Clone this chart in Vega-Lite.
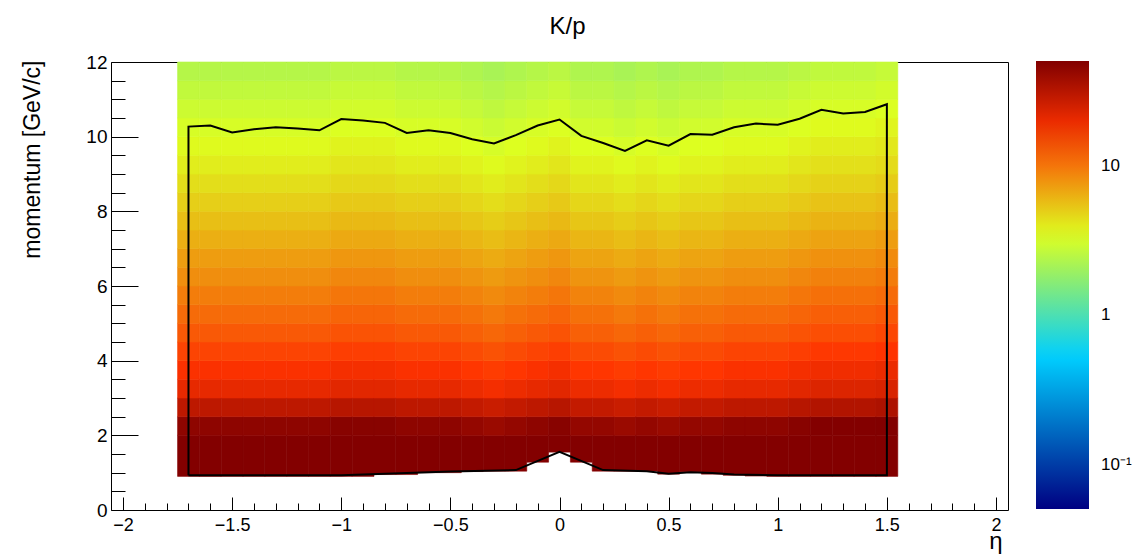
{
"$schema":"https://vega.github.io/schema/vega-lite/v6.json",
"width":897,"height":448,
"autosize":{"type":"none"},
"padding":{"left":111,"top":62,"right":133,"bottom":44},
"background":"white",
"config":{"view":{"stroke":"black","strokeWidth":1},"font":"Liberation Sans"},
"title":{"text":"K/p","fontSize":24,"font":"Liberation Sans","fontWeight":"normal","color":"black","anchor":"middle","dx":8,"offset":-5,"baseline":"alphabetic"},
"datasets":{
"cells":[
{"a":-1.75,"b":-1.65,"p":0.9,"q":2,"z":50},{"a":-1.75,"b":-1.65,"p":2,"q":2.5,"z":45.5},{"a":-1.75,"b":-1.65,"p":2.5,"q":3,"z":30.0},{"a":-1.75,"b":-1.65,"p":3,"q":3.5,"z":20.6},{"a":-1.75,"b":-1.65,"p":3.5,"q":4,"z":17.3},{"a":-1.75,"b":-1.65,"p":4,"q":4.5,"z":14.6},{"a":-1.75,"b":-1.65,"p":4.5,"q":5,"z":12.4},{"a":-1.75,"b":-1.65,"p":5,"q":5.5,"z":10.8},{"a":-1.75,"b":-1.65,"p":5.5,"q":6,"z":9.42},{"a":-1.75,"b":-1.65,"p":6,"q":6.5,"z":8.26},{"a":-1.75,"b":-1.65,"p":6.5,"q":7,"z":7.30},{"a":-1.75,"b":-1.65,"p":7,"q":7.5,"z":6.36},{"a":-1.75,"b":-1.65,"p":7.5,"q":8,"z":5.61},{"a":-1.75,"b":-1.65,"p":8,"q":8.5,"z":4.95},{"a":-1.75,"b":-1.65,"p":8.5,"q":9,"z":4.40},{"a":-1.75,"b":-1.65,"p":9,"q":9.5,"z":3.94},{"a":-1.75,"b":-1.65,"p":9.5,"q":10,"z":3.56},{"a":-1.75,"b":-1.65,"p":10,"q":10.5,"z":3.21},{"a":-1.75,"b":-1.65,"p":10.5,"q":11,"z":2.93},{"a":-1.75,"b":-1.65,"p":11,"q":11.5,"z":2.68},{"a":-1.75,"b":-1.65,"p":11.5,"q":12,"z":2.42},
{"a":-1.65,"b":-1.55,"p":0.9,"q":2,"z":50},{"a":-1.65,"b":-1.55,"p":2,"q":2.5,"z":45.5},{"a":-1.65,"b":-1.55,"p":2.5,"q":3,"z":30.0},{"a":-1.65,"b":-1.55,"p":3,"q":3.5,"z":20.6},{"a":-1.65,"b":-1.55,"p":3.5,"q":4,"z":17.3},{"a":-1.65,"b":-1.55,"p":4,"q":4.5,"z":14.6},{"a":-1.65,"b":-1.55,"p":4.5,"q":5,"z":12.4},{"a":-1.65,"b":-1.55,"p":5,"q":5.5,"z":10.8},{"a":-1.65,"b":-1.55,"p":5.5,"q":6,"z":9.42},{"a":-1.65,"b":-1.55,"p":6,"q":6.5,"z":8.26},{"a":-1.65,"b":-1.55,"p":6.5,"q":7,"z":7.30},{"a":-1.65,"b":-1.55,"p":7,"q":7.5,"z":6.36},{"a":-1.65,"b":-1.55,"p":7.5,"q":8,"z":5.61},{"a":-1.65,"b":-1.55,"p":8,"q":8.5,"z":4.95},{"a":-1.65,"b":-1.55,"p":8.5,"q":9,"z":4.40},{"a":-1.65,"b":-1.55,"p":9,"q":9.5,"z":3.94},{"a":-1.65,"b":-1.55,"p":9.5,"q":10,"z":3.56},{"a":-1.65,"b":-1.55,"p":10,"q":10.5,"z":3.21},{"a":-1.65,"b":-1.55,"p":10.5,"q":11,"z":2.93},{"a":-1.65,"b":-1.55,"p":11,"q":11.5,"z":2.68},{"a":-1.65,"b":-1.55,"p":11.5,"q":12,"z":2.42},
{"a":-1.55,"b":-1.45,"p":0.9,"q":2,"z":50},{"a":-1.55,"b":-1.45,"p":2,"q":2.5,"z":45.5},{"a":-1.55,"b":-1.45,"p":2.5,"q":3,"z":30.0},{"a":-1.55,"b":-1.45,"p":3,"q":3.5,"z":20.6},{"a":-1.55,"b":-1.45,"p":3.5,"q":4,"z":17.3},{"a":-1.55,"b":-1.45,"p":4,"q":4.5,"z":14.6},{"a":-1.55,"b":-1.45,"p":4.5,"q":5,"z":12.4},{"a":-1.55,"b":-1.45,"p":5,"q":5.5,"z":10.8},{"a":-1.55,"b":-1.45,"p":5.5,"q":6,"z":9.42},{"a":-1.55,"b":-1.45,"p":6,"q":6.5,"z":8.26},{"a":-1.55,"b":-1.45,"p":6.5,"q":7,"z":7.30},{"a":-1.55,"b":-1.45,"p":7,"q":7.5,"z":6.36},{"a":-1.55,"b":-1.45,"p":7.5,"q":8,"z":5.61},{"a":-1.55,"b":-1.45,"p":8,"q":8.5,"z":4.95},{"a":-1.55,"b":-1.45,"p":8.5,"q":9,"z":4.40},{"a":-1.55,"b":-1.45,"p":9,"q":9.5,"z":3.94},{"a":-1.55,"b":-1.45,"p":9.5,"q":10,"z":3.56},{"a":-1.55,"b":-1.45,"p":10,"q":10.5,"z":3.21},{"a":-1.55,"b":-1.45,"p":10.5,"q":11,"z":2.93},{"a":-1.55,"b":-1.45,"p":11,"q":11.5,"z":2.68},{"a":-1.55,"b":-1.45,"p":11.5,"q":12,"z":2.42},
{"a":-1.45,"b":-1.35,"p":0.9,"q":2,"z":50},{"a":-1.45,"b":-1.35,"p":2,"q":2.5,"z":45.5},{"a":-1.45,"b":-1.35,"p":2.5,"q":3,"z":30.0},{"a":-1.45,"b":-1.35,"p":3,"q":3.5,"z":20.6},{"a":-1.45,"b":-1.35,"p":3.5,"q":4,"z":17.3},{"a":-1.45,"b":-1.35,"p":4,"q":4.5,"z":14.6},{"a":-1.45,"b":-1.35,"p":4.5,"q":5,"z":12.4},{"a":-1.45,"b":-1.35,"p":5,"q":5.5,"z":10.8},{"a":-1.45,"b":-1.35,"p":5.5,"q":6,"z":9.42},{"a":-1.45,"b":-1.35,"p":6,"q":6.5,"z":8.26},{"a":-1.45,"b":-1.35,"p":6.5,"q":7,"z":7.30},{"a":-1.45,"b":-1.35,"p":7,"q":7.5,"z":6.36},{"a":-1.45,"b":-1.35,"p":7.5,"q":8,"z":5.61},{"a":-1.45,"b":-1.35,"p":8,"q":8.5,"z":4.95},{"a":-1.45,"b":-1.35,"p":8.5,"q":9,"z":4.40},{"a":-1.45,"b":-1.35,"p":9,"q":9.5,"z":3.94},{"a":-1.45,"b":-1.35,"p":9.5,"q":10,"z":3.56},{"a":-1.45,"b":-1.35,"p":10,"q":10.5,"z":3.21},{"a":-1.45,"b":-1.35,"p":10.5,"q":11,"z":2.93},{"a":-1.45,"b":-1.35,"p":11,"q":11.5,"z":2.68},{"a":-1.45,"b":-1.35,"p":11.5,"q":12,"z":2.42},
{"a":-1.35,"b":-1.25,"p":0.9,"q":2,"z":50},{"a":-1.35,"b":-1.25,"p":2,"q":2.5,"z":45.5},{"a":-1.35,"b":-1.25,"p":2.5,"q":3,"z":30.0},{"a":-1.35,"b":-1.25,"p":3,"q":3.5,"z":20.6},{"a":-1.35,"b":-1.25,"p":3.5,"q":4,"z":17.3},{"a":-1.35,"b":-1.25,"p":4,"q":4.5,"z":14.6},{"a":-1.35,"b":-1.25,"p":4.5,"q":5,"z":12.4},{"a":-1.35,"b":-1.25,"p":5,"q":5.5,"z":10.8},{"a":-1.35,"b":-1.25,"p":5.5,"q":6,"z":9.42},{"a":-1.35,"b":-1.25,"p":6,"q":6.5,"z":8.26},{"a":-1.35,"b":-1.25,"p":6.5,"q":7,"z":7.30},{"a":-1.35,"b":-1.25,"p":7,"q":7.5,"z":6.36},{"a":-1.35,"b":-1.25,"p":7.5,"q":8,"z":5.61},{"a":-1.35,"b":-1.25,"p":8,"q":8.5,"z":4.95},{"a":-1.35,"b":-1.25,"p":8.5,"q":9,"z":4.40},{"a":-1.35,"b":-1.25,"p":9,"q":9.5,"z":3.94},{"a":-1.35,"b":-1.25,"p":9.5,"q":10,"z":3.56},{"a":-1.35,"b":-1.25,"p":10,"q":10.5,"z":3.21},{"a":-1.35,"b":-1.25,"p":10.5,"q":11,"z":2.93},{"a":-1.35,"b":-1.25,"p":11,"q":11.5,"z":2.68},{"a":-1.35,"b":-1.25,"p":11.5,"q":12,"z":2.42},
{"a":-1.25,"b":-1.15,"p":0.9,"q":2,"z":50},{"a":-1.25,"b":-1.15,"p":2,"q":2.5,"z":45.5},{"a":-1.25,"b":-1.15,"p":2.5,"q":3,"z":30.0},{"a":-1.25,"b":-1.15,"p":3,"q":3.5,"z":20.6},{"a":-1.25,"b":-1.15,"p":3.5,"q":4,"z":17.3},{"a":-1.25,"b":-1.15,"p":4,"q":4.5,"z":14.6},{"a":-1.25,"b":-1.15,"p":4.5,"q":5,"z":12.4},{"a":-1.25,"b":-1.15,"p":5,"q":5.5,"z":10.8},{"a":-1.25,"b":-1.15,"p":5.5,"q":6,"z":9.42},{"a":-1.25,"b":-1.15,"p":6,"q":6.5,"z":8.26},{"a":-1.25,"b":-1.15,"p":6.5,"q":7,"z":7.30},{"a":-1.25,"b":-1.15,"p":7,"q":7.5,"z":6.36},{"a":-1.25,"b":-1.15,"p":7.5,"q":8,"z":5.61},{"a":-1.25,"b":-1.15,"p":8,"q":8.5,"z":4.95},{"a":-1.25,"b":-1.15,"p":8.5,"q":9,"z":4.40},{"a":-1.25,"b":-1.15,"p":9,"q":9.5,"z":3.94},{"a":-1.25,"b":-1.15,"p":9.5,"q":10,"z":3.56},{"a":-1.25,"b":-1.15,"p":10,"q":10.5,"z":3.21},{"a":-1.25,"b":-1.15,"p":10.5,"q":11,"z":2.93},{"a":-1.25,"b":-1.15,"p":11,"q":11.5,"z":2.68},{"a":-1.25,"b":-1.15,"p":11.5,"q":12,"z":2.42},
{"a":-1.15,"b":-1.05,"p":0.9,"q":2,"z":50},{"a":-1.15,"b":-1.05,"p":2,"q":2.5,"z":45.5},{"a":-1.15,"b":-1.05,"p":2.5,"q":3,"z":30.0},{"a":-1.15,"b":-1.05,"p":3,"q":3.5,"z":20.6},{"a":-1.15,"b":-1.05,"p":3.5,"q":4,"z":17.3},{"a":-1.15,"b":-1.05,"p":4,"q":4.5,"z":14.6},{"a":-1.15,"b":-1.05,"p":4.5,"q":5,"z":12.4},{"a":-1.15,"b":-1.05,"p":5,"q":5.5,"z":10.8},{"a":-1.15,"b":-1.05,"p":5.5,"q":6,"z":9.42},{"a":-1.15,"b":-1.05,"p":6,"q":6.5,"z":8.26},{"a":-1.15,"b":-1.05,"p":6.5,"q":7,"z":7.30},{"a":-1.15,"b":-1.05,"p":7,"q":7.5,"z":6.36},{"a":-1.15,"b":-1.05,"p":7.5,"q":8,"z":5.61},{"a":-1.15,"b":-1.05,"p":8,"q":8.5,"z":4.95},{"a":-1.15,"b":-1.05,"p":8.5,"q":9,"z":4.40},{"a":-1.15,"b":-1.05,"p":9,"q":9.5,"z":3.94},{"a":-1.15,"b":-1.05,"p":9.5,"q":10,"z":3.56},{"a":-1.15,"b":-1.05,"p":10,"q":10.5,"z":3.21},{"a":-1.15,"b":-1.05,"p":10.5,"q":11,"z":2.93},{"a":-1.15,"b":-1.05,"p":11,"q":11.5,"z":2.68},{"a":-1.15,"b":-1.05,"p":11.5,"q":12,"z":2.42},
{"a":-1.05,"b":-0.95,"p":0.9,"q":2,"z":50},{"a":-1.05,"b":-0.95,"p":2,"q":2.5,"z":47.8},{"a":-1.05,"b":-0.95,"p":2.5,"q":3,"z":31.5},{"a":-1.05,"b":-0.95,"p":3,"q":3.5,"z":21.6},{"a":-1.05,"b":-0.95,"p":3.5,"q":4,"z":18.2},{"a":-1.05,"b":-0.95,"p":4,"q":4.5,"z":15.3},{"a":-1.05,"b":-0.95,"p":4.5,"q":5,"z":13.0},{"a":-1.05,"b":-0.95,"p":5,"q":5.5,"z":11.3},{"a":-1.05,"b":-0.95,"p":5.5,"q":6,"z":9.89},{"a":-1.05,"b":-0.95,"p":6,"q":6.5,"z":8.67},{"a":-1.05,"b":-0.95,"p":6.5,"q":7,"z":7.67},{"a":-1.05,"b":-0.95,"p":7,"q":7.5,"z":6.68},{"a":-1.05,"b":-0.95,"p":7.5,"q":8,"z":5.89},{"a":-1.05,"b":-0.95,"p":8,"q":8.5,"z":5.20},{"a":-1.05,"b":-0.95,"p":8.5,"q":9,"z":4.62},{"a":-1.05,"b":-0.95,"p":9,"q":9.5,"z":4.14},{"a":-1.05,"b":-0.95,"p":9.5,"q":10,"z":3.74},{"a":-1.05,"b":-0.95,"p":10,"q":10.5,"z":3.37},{"a":-1.05,"b":-0.95,"p":10.5,"q":11,"z":3.08},{"a":-1.05,"b":-0.95,"p":11,"q":11.5,"z":2.81},{"a":-1.05,"b":-0.95,"p":11.5,"q":12,"z":2.54},
{"a":-0.95,"b":-0.85,"p":0.9,"q":2,"z":50},{"a":-0.95,"b":-0.85,"p":2,"q":2.5,"z":47.8},{"a":-0.95,"b":-0.85,"p":2.5,"q":3,"z":31.5},{"a":-0.95,"b":-0.85,"p":3,"q":3.5,"z":21.6},{"a":-0.95,"b":-0.85,"p":3.5,"q":4,"z":18.2},{"a":-0.95,"b":-0.85,"p":4,"q":4.5,"z":15.3},{"a":-0.95,"b":-0.85,"p":4.5,"q":5,"z":13.0},{"a":-0.95,"b":-0.85,"p":5,"q":5.5,"z":11.3},{"a":-0.95,"b":-0.85,"p":5.5,"q":6,"z":9.89},{"a":-0.95,"b":-0.85,"p":6,"q":6.5,"z":8.67},{"a":-0.95,"b":-0.85,"p":6.5,"q":7,"z":7.67},{"a":-0.95,"b":-0.85,"p":7,"q":7.5,"z":6.68},{"a":-0.95,"b":-0.85,"p":7.5,"q":8,"z":5.89},{"a":-0.95,"b":-0.85,"p":8,"q":8.5,"z":5.20},{"a":-0.95,"b":-0.85,"p":8.5,"q":9,"z":4.62},{"a":-0.95,"b":-0.85,"p":9,"q":9.5,"z":4.14},{"a":-0.95,"b":-0.85,"p":9.5,"q":10,"z":3.74},{"a":-0.95,"b":-0.85,"p":10,"q":10.5,"z":3.37},{"a":-0.95,"b":-0.85,"p":10.5,"q":11,"z":3.08},{"a":-0.95,"b":-0.85,"p":11,"q":11.5,"z":2.81},{"a":-0.95,"b":-0.85,"p":11.5,"q":12,"z":2.54},
{"a":-0.85,"b":-0.75,"p":0.95,"q":2,"z":50},{"a":-0.85,"b":-0.75,"p":2,"q":2.5,"z":47.8},{"a":-0.85,"b":-0.75,"p":2.5,"q":3,"z":31.5},{"a":-0.85,"b":-0.75,"p":3,"q":3.5,"z":21.6},{"a":-0.85,"b":-0.75,"p":3.5,"q":4,"z":18.2},{"a":-0.85,"b":-0.75,"p":4,"q":4.5,"z":15.3},{"a":-0.85,"b":-0.75,"p":4.5,"q":5,"z":13.0},{"a":-0.85,"b":-0.75,"p":5,"q":5.5,"z":11.3},{"a":-0.85,"b":-0.75,"p":5.5,"q":6,"z":9.89},{"a":-0.85,"b":-0.75,"p":6,"q":6.5,"z":8.67},{"a":-0.85,"b":-0.75,"p":6.5,"q":7,"z":7.67},{"a":-0.85,"b":-0.75,"p":7,"q":7.5,"z":6.68},{"a":-0.85,"b":-0.75,"p":7.5,"q":8,"z":5.89},{"a":-0.85,"b":-0.75,"p":8,"q":8.5,"z":5.20},{"a":-0.85,"b":-0.75,"p":8.5,"q":9,"z":4.62},{"a":-0.85,"b":-0.75,"p":9,"q":9.5,"z":4.14},{"a":-0.85,"b":-0.75,"p":9.5,"q":10,"z":3.74},{"a":-0.85,"b":-0.75,"p":10,"q":10.5,"z":3.37},{"a":-0.85,"b":-0.75,"p":10.5,"q":11,"z":3.08},{"a":-0.85,"b":-0.75,"p":11,"q":11.5,"z":2.81},{"a":-0.85,"b":-0.75,"p":11.5,"q":12,"z":2.54},
{"a":-0.75,"b":-0.65,"p":0.95,"q":2,"z":50},{"a":-0.75,"b":-0.65,"p":2,"q":2.5,"z":45.5},{"a":-0.75,"b":-0.65,"p":2.5,"q":3,"z":30.0},{"a":-0.75,"b":-0.65,"p":3,"q":3.5,"z":20.6},{"a":-0.75,"b":-0.65,"p":3.5,"q":4,"z":17.3},{"a":-0.75,"b":-0.65,"p":4,"q":4.5,"z":14.6},{"a":-0.75,"b":-0.65,"p":4.5,"q":5,"z":12.4},{"a":-0.75,"b":-0.65,"p":5,"q":5.5,"z":10.8},{"a":-0.75,"b":-0.65,"p":5.5,"q":6,"z":9.42},{"a":-0.75,"b":-0.65,"p":6,"q":6.5,"z":8.26},{"a":-0.75,"b":-0.65,"p":6.5,"q":7,"z":7.30},{"a":-0.75,"b":-0.65,"p":7,"q":7.5,"z":6.36},{"a":-0.75,"b":-0.65,"p":7.5,"q":8,"z":5.61},{"a":-0.75,"b":-0.65,"p":8,"q":8.5,"z":4.95},{"a":-0.75,"b":-0.65,"p":8.5,"q":9,"z":4.40},{"a":-0.75,"b":-0.65,"p":9,"q":9.5,"z":3.94},{"a":-0.75,"b":-0.65,"p":9.5,"q":10,"z":3.56},{"a":-0.75,"b":-0.65,"p":10,"q":10.5,"z":3.21},{"a":-0.75,"b":-0.65,"p":10.5,"q":11,"z":2.93},{"a":-0.75,"b":-0.65,"p":11,"q":11.5,"z":2.68},{"a":-0.75,"b":-0.65,"p":11.5,"q":12,"z":2.42},
{"a":-0.65,"b":-0.55,"p":1.0,"q":2,"z":50},{"a":-0.65,"b":-0.55,"p":2,"q":2.5,"z":45.5},{"a":-0.65,"b":-0.55,"p":2.5,"q":3,"z":30.0},{"a":-0.65,"b":-0.55,"p":3,"q":3.5,"z":20.6},{"a":-0.65,"b":-0.55,"p":3.5,"q":4,"z":17.3},{"a":-0.65,"b":-0.55,"p":4,"q":4.5,"z":14.6},{"a":-0.65,"b":-0.55,"p":4.5,"q":5,"z":12.4},{"a":-0.65,"b":-0.55,"p":5,"q":5.5,"z":10.8},{"a":-0.65,"b":-0.55,"p":5.5,"q":6,"z":9.42},{"a":-0.65,"b":-0.55,"p":6,"q":6.5,"z":8.26},{"a":-0.65,"b":-0.55,"p":6.5,"q":7,"z":7.30},{"a":-0.65,"b":-0.55,"p":7,"q":7.5,"z":6.36},{"a":-0.65,"b":-0.55,"p":7.5,"q":8,"z":5.61},{"a":-0.65,"b":-0.55,"p":8,"q":8.5,"z":4.95},{"a":-0.65,"b":-0.55,"p":8.5,"q":9,"z":4.40},{"a":-0.65,"b":-0.55,"p":9,"q":9.5,"z":3.94},{"a":-0.65,"b":-0.55,"p":9.5,"q":10,"z":3.56},{"a":-0.65,"b":-0.55,"p":10,"q":10.5,"z":3.21},{"a":-0.65,"b":-0.55,"p":10.5,"q":11,"z":2.93},{"a":-0.65,"b":-0.55,"p":11,"q":11.5,"z":2.68},{"a":-0.65,"b":-0.55,"p":11.5,"q":12,"z":2.42},
{"a":-0.55,"b":-0.45,"p":1.0,"q":2,"z":50},{"a":-0.55,"b":-0.45,"p":2,"q":2.5,"z":45.5},{"a":-0.55,"b":-0.45,"p":2.5,"q":3,"z":30.0},{"a":-0.55,"b":-0.45,"p":3,"q":3.5,"z":20.6},{"a":-0.55,"b":-0.45,"p":3.5,"q":4,"z":17.3},{"a":-0.55,"b":-0.45,"p":4,"q":4.5,"z":14.6},{"a":-0.55,"b":-0.45,"p":4.5,"q":5,"z":12.4},{"a":-0.55,"b":-0.45,"p":5,"q":5.5,"z":10.8},{"a":-0.55,"b":-0.45,"p":5.5,"q":6,"z":9.42},{"a":-0.55,"b":-0.45,"p":6,"q":6.5,"z":8.26},{"a":-0.55,"b":-0.45,"p":6.5,"q":7,"z":7.30},{"a":-0.55,"b":-0.45,"p":7,"q":7.5,"z":6.36},{"a":-0.55,"b":-0.45,"p":7.5,"q":8,"z":5.61},{"a":-0.55,"b":-0.45,"p":8,"q":8.5,"z":4.95},{"a":-0.55,"b":-0.45,"p":8.5,"q":9,"z":4.40},{"a":-0.55,"b":-0.45,"p":9,"q":9.5,"z":3.94},{"a":-0.55,"b":-0.45,"p":9.5,"q":10,"z":3.56},{"a":-0.55,"b":-0.45,"p":10,"q":10.5,"z":3.21},{"a":-0.55,"b":-0.45,"p":10.5,"q":11,"z":2.93},{"a":-0.55,"b":-0.45,"p":11,"q":11.5,"z":2.68},{"a":-0.55,"b":-0.45,"p":11.5,"q":12,"z":2.42},
{"a":-0.45,"b":-0.35,"p":1.03,"q":2,"z":50},{"a":-0.45,"b":-0.35,"p":2,"q":2.5,"z":43.2},{"a":-0.45,"b":-0.35,"p":2.5,"q":3,"z":28.5},{"a":-0.45,"b":-0.35,"p":3,"q":3.5,"z":19.6},{"a":-0.45,"b":-0.35,"p":3.5,"q":4,"z":16.4},{"a":-0.45,"b":-0.35,"p":4,"q":4.5,"z":13.9},{"a":-0.45,"b":-0.35,"p":4.5,"q":5,"z":11.8},{"a":-0.45,"b":-0.35,"p":5,"q":5.5,"z":10.3},{"a":-0.45,"b":-0.35,"p":5.5,"q":6,"z":8.95},{"a":-0.45,"b":-0.35,"p":6,"q":6.5,"z":7.85},{"a":-0.45,"b":-0.35,"p":6.5,"q":7,"z":6.94},{"a":-0.45,"b":-0.35,"p":7,"q":7.5,"z":6.04},{"a":-0.45,"b":-0.35,"p":7.5,"q":8,"z":5.33},{"a":-0.45,"b":-0.35,"p":8,"q":8.5,"z":4.70},{"a":-0.45,"b":-0.35,"p":8.5,"q":9,"z":4.18},{"a":-0.45,"b":-0.35,"p":9,"q":9.5,"z":3.74},{"a":-0.45,"b":-0.35,"p":9.5,"q":10,"z":3.38},{"a":-0.45,"b":-0.35,"p":10,"q":10.5,"z":3.05},{"a":-0.45,"b":-0.35,"p":10.5,"q":11,"z":2.78},{"a":-0.45,"b":-0.35,"p":11,"q":11.5,"z":2.55},{"a":-0.45,"b":-0.35,"p":11.5,"q":12,"z":2.30},
{"a":-0.35,"b":-0.25,"p":1.04,"q":2,"z":50},{"a":-0.35,"b":-0.25,"p":2,"q":2.5,"z":41.0},{"a":-0.35,"b":-0.25,"p":2.5,"q":3,"z":27.0},{"a":-0.35,"b":-0.25,"p":3,"q":3.5,"z":18.5},{"a":-0.35,"b":-0.25,"p":3.5,"q":4,"z":15.6},{"a":-0.35,"b":-0.25,"p":4,"q":4.5,"z":13.1},{"a":-0.35,"b":-0.25,"p":4.5,"q":5,"z":11.2},{"a":-0.35,"b":-0.25,"p":5,"q":5.5,"z":9.72},{"a":-0.35,"b":-0.25,"p":5.5,"q":6,"z":8.48},{"a":-0.35,"b":-0.25,"p":6,"q":6.5,"z":7.43},{"a":-0.35,"b":-0.25,"p":6.5,"q":7,"z":6.57},{"a":-0.35,"b":-0.25,"p":7,"q":7.5,"z":5.72},{"a":-0.35,"b":-0.25,"p":7.5,"q":8,"z":5.05},{"a":-0.35,"b":-0.25,"p":8,"q":8.5,"z":4.46},{"a":-0.35,"b":-0.25,"p":8.5,"q":9,"z":3.96},{"a":-0.35,"b":-0.25,"p":9,"q":9.5,"z":3.55},{"a":-0.35,"b":-0.25,"p":9.5,"q":10,"z":3.20},{"a":-0.35,"b":-0.25,"p":10,"q":10.5,"z":2.89},{"a":-0.35,"b":-0.25,"p":10.5,"q":11,"z":2.64},{"a":-0.35,"b":-0.25,"p":11,"q":11.5,"z":2.41},{"a":-0.35,"b":-0.25,"p":11.5,"q":12,"z":2.18},
{"a":-0.25,"b":-0.15,"p":1.04,"q":2,"z":50},{"a":-0.25,"b":-0.15,"p":2,"q":2.5,"z":43.2},{"a":-0.25,"b":-0.15,"p":2.5,"q":3,"z":28.5},{"a":-0.25,"b":-0.15,"p":3,"q":3.5,"z":19.6},{"a":-0.25,"b":-0.15,"p":3.5,"q":4,"z":16.4},{"a":-0.25,"b":-0.15,"p":4,"q":4.5,"z":13.9},{"a":-0.25,"b":-0.15,"p":4.5,"q":5,"z":11.8},{"a":-0.25,"b":-0.15,"p":5,"q":5.5,"z":10.3},{"a":-0.25,"b":-0.15,"p":5.5,"q":6,"z":8.95},{"a":-0.25,"b":-0.15,"p":6,"q":6.5,"z":7.85},{"a":-0.25,"b":-0.15,"p":6.5,"q":7,"z":6.94},{"a":-0.25,"b":-0.15,"p":7,"q":7.5,"z":6.04},{"a":-0.25,"b":-0.15,"p":7.5,"q":8,"z":5.33},{"a":-0.25,"b":-0.15,"p":8,"q":8.5,"z":4.70},{"a":-0.25,"b":-0.15,"p":8.5,"q":9,"z":4.18},{"a":-0.25,"b":-0.15,"p":9,"q":9.5,"z":3.74},{"a":-0.25,"b":-0.15,"p":9.5,"q":10,"z":3.38},{"a":-0.25,"b":-0.15,"p":10,"q":10.5,"z":3.05},{"a":-0.25,"b":-0.15,"p":10.5,"q":11,"z":2.78},{"a":-0.25,"b":-0.15,"p":11,"q":11.5,"z":2.55},{"a":-0.25,"b":-0.15,"p":11.5,"q":12,"z":2.30},
{"a":-0.15,"b":-0.05,"p":1.28,"q":2,"z":50},{"a":-0.15,"b":-0.05,"p":2,"q":2.5,"z":45.5},{"a":-0.15,"b":-0.05,"p":2.5,"q":3,"z":30.0},{"a":-0.15,"b":-0.05,"p":3,"q":3.5,"z":20.6},{"a":-0.15,"b":-0.05,"p":3.5,"q":4,"z":17.3},{"a":-0.15,"b":-0.05,"p":4,"q":4.5,"z":14.6},{"a":-0.15,"b":-0.05,"p":4.5,"q":5,"z":12.4},{"a":-0.15,"b":-0.05,"p":5,"q":5.5,"z":10.8},{"a":-0.15,"b":-0.05,"p":5.5,"q":6,"z":9.42},{"a":-0.15,"b":-0.05,"p":6,"q":6.5,"z":8.26},{"a":-0.15,"b":-0.05,"p":6.5,"q":7,"z":7.30},{"a":-0.15,"b":-0.05,"p":7,"q":7.5,"z":6.36},{"a":-0.15,"b":-0.05,"p":7.5,"q":8,"z":5.61},{"a":-0.15,"b":-0.05,"p":8,"q":8.5,"z":4.95},{"a":-0.15,"b":-0.05,"p":8.5,"q":9,"z":4.40},{"a":-0.15,"b":-0.05,"p":9,"q":9.5,"z":3.94},{"a":-0.15,"b":-0.05,"p":9.5,"q":10,"z":3.56},{"a":-0.15,"b":-0.05,"p":10,"q":10.5,"z":3.21},{"a":-0.15,"b":-0.05,"p":10.5,"q":11,"z":2.93},{"a":-0.15,"b":-0.05,"p":11,"q":11.5,"z":2.68},{"a":-0.15,"b":-0.05,"p":11.5,"q":12,"z":2.42},
{"a":-0.05,"b":0.05,"p":1.55,"q":2,"z":50},{"a":-0.05,"b":0.05,"p":2,"q":2.5,"z":47.8},{"a":-0.05,"b":0.05,"p":2.5,"q":3,"z":31.5},{"a":-0.05,"b":0.05,"p":3,"q":3.5,"z":21.6},{"a":-0.05,"b":0.05,"p":3.5,"q":4,"z":18.2},{"a":-0.05,"b":0.05,"p":4,"q":4.5,"z":15.3},{"a":-0.05,"b":0.05,"p":4.5,"q":5,"z":13.0},{"a":-0.05,"b":0.05,"p":5,"q":5.5,"z":11.3},{"a":-0.05,"b":0.05,"p":5.5,"q":6,"z":9.89},{"a":-0.05,"b":0.05,"p":6,"q":6.5,"z":8.67},{"a":-0.05,"b":0.05,"p":6.5,"q":7,"z":7.67},{"a":-0.05,"b":0.05,"p":7,"q":7.5,"z":6.68},{"a":-0.05,"b":0.05,"p":7.5,"q":8,"z":5.89},{"a":-0.05,"b":0.05,"p":8,"q":8.5,"z":5.20},{"a":-0.05,"b":0.05,"p":8.5,"q":9,"z":4.62},{"a":-0.05,"b":0.05,"p":9,"q":9.5,"z":4.14},{"a":-0.05,"b":0.05,"p":9.5,"q":10,"z":3.74},{"a":-0.05,"b":0.05,"p":10,"q":10.5,"z":3.37},{"a":-0.05,"b":0.05,"p":10.5,"q":11,"z":3.08},{"a":-0.05,"b":0.05,"p":11,"q":11.5,"z":2.81},{"a":-0.05,"b":0.05,"p":11.5,"q":12,"z":2.54},
{"a":0.05,"b":0.15,"p":1.28,"q":2,"z":50},{"a":0.05,"b":0.15,"p":2,"q":2.5,"z":43.2},{"a":0.05,"b":0.15,"p":2.5,"q":3,"z":28.5},{"a":0.05,"b":0.15,"p":3,"q":3.5,"z":19.6},{"a":0.05,"b":0.15,"p":3.5,"q":4,"z":16.4},{"a":0.05,"b":0.15,"p":4,"q":4.5,"z":13.9},{"a":0.05,"b":0.15,"p":4.5,"q":5,"z":11.8},{"a":0.05,"b":0.15,"p":5,"q":5.5,"z":10.3},{"a":0.05,"b":0.15,"p":5.5,"q":6,"z":8.95},{"a":0.05,"b":0.15,"p":6,"q":6.5,"z":7.85},{"a":0.05,"b":0.15,"p":6.5,"q":7,"z":6.94},{"a":0.05,"b":0.15,"p":7,"q":7.5,"z":6.04},{"a":0.05,"b":0.15,"p":7.5,"q":8,"z":5.33},{"a":0.05,"b":0.15,"p":8,"q":8.5,"z":4.70},{"a":0.05,"b":0.15,"p":8.5,"q":9,"z":4.18},{"a":0.05,"b":0.15,"p":9,"q":9.5,"z":3.74},{"a":0.05,"b":0.15,"p":9.5,"q":10,"z":3.38},{"a":0.05,"b":0.15,"p":10,"q":10.5,"z":3.05},{"a":0.05,"b":0.15,"p":10.5,"q":11,"z":2.78},{"a":0.05,"b":0.15,"p":11,"q":11.5,"z":2.55},{"a":0.05,"b":0.15,"p":11.5,"q":12,"z":2.30},
{"a":0.15,"b":0.25,"p":1.04,"q":2,"z":50},{"a":0.15,"b":0.25,"p":2,"q":2.5,"z":43.2},{"a":0.15,"b":0.25,"p":2.5,"q":3,"z":28.5},{"a":0.15,"b":0.25,"p":3,"q":3.5,"z":19.6},{"a":0.15,"b":0.25,"p":3.5,"q":4,"z":16.4},{"a":0.15,"b":0.25,"p":4,"q":4.5,"z":13.9},{"a":0.15,"b":0.25,"p":4.5,"q":5,"z":11.8},{"a":0.15,"b":0.25,"p":5,"q":5.5,"z":10.3},{"a":0.15,"b":0.25,"p":5.5,"q":6,"z":8.95},{"a":0.15,"b":0.25,"p":6,"q":6.5,"z":7.85},{"a":0.15,"b":0.25,"p":6.5,"q":7,"z":6.94},{"a":0.15,"b":0.25,"p":7,"q":7.5,"z":6.04},{"a":0.15,"b":0.25,"p":7.5,"q":8,"z":5.33},{"a":0.15,"b":0.25,"p":8,"q":8.5,"z":4.70},{"a":0.15,"b":0.25,"p":8.5,"q":9,"z":4.18},{"a":0.15,"b":0.25,"p":9,"q":9.5,"z":3.74},{"a":0.15,"b":0.25,"p":9.5,"q":10,"z":3.38},{"a":0.15,"b":0.25,"p":10,"q":10.5,"z":3.05},{"a":0.15,"b":0.25,"p":10.5,"q":11,"z":2.78},{"a":0.15,"b":0.25,"p":11,"q":11.5,"z":2.55},{"a":0.15,"b":0.25,"p":11.5,"q":12,"z":2.30},
{"a":0.25,"b":0.35,"p":1.04,"q":2,"z":50},{"a":0.25,"b":0.35,"p":2,"q":2.5,"z":41.0},{"a":0.25,"b":0.35,"p":2.5,"q":3,"z":27.0},{"a":0.25,"b":0.35,"p":3,"q":3.5,"z":18.5},{"a":0.25,"b":0.35,"p":3.5,"q":4,"z":15.6},{"a":0.25,"b":0.35,"p":4,"q":4.5,"z":13.1},{"a":0.25,"b":0.35,"p":4.5,"q":5,"z":11.2},{"a":0.25,"b":0.35,"p":5,"q":5.5,"z":9.72},{"a":0.25,"b":0.35,"p":5.5,"q":6,"z":8.48},{"a":0.25,"b":0.35,"p":6,"q":6.5,"z":7.43},{"a":0.25,"b":0.35,"p":6.5,"q":7,"z":6.57},{"a":0.25,"b":0.35,"p":7,"q":7.5,"z":5.72},{"a":0.25,"b":0.35,"p":7.5,"q":8,"z":5.05},{"a":0.25,"b":0.35,"p":8,"q":8.5,"z":4.46},{"a":0.25,"b":0.35,"p":8.5,"q":9,"z":3.96},{"a":0.25,"b":0.35,"p":9,"q":9.5,"z":3.55},{"a":0.25,"b":0.35,"p":9.5,"q":10,"z":3.20},{"a":0.25,"b":0.35,"p":10,"q":10.5,"z":2.89},{"a":0.25,"b":0.35,"p":10.5,"q":11,"z":2.64},{"a":0.25,"b":0.35,"p":11,"q":11.5,"z":2.41},{"a":0.25,"b":0.35,"p":11.5,"q":12,"z":2.18},
{"a":0.35,"b":0.45,"p":1.04,"q":2,"z":50},{"a":0.35,"b":0.45,"p":2,"q":2.5,"z":43.2},{"a":0.35,"b":0.45,"p":2.5,"q":3,"z":28.5},{"a":0.35,"b":0.45,"p":3,"q":3.5,"z":19.6},{"a":0.35,"b":0.45,"p":3.5,"q":4,"z":16.4},{"a":0.35,"b":0.45,"p":4,"q":4.5,"z":13.9},{"a":0.35,"b":0.45,"p":4.5,"q":5,"z":11.8},{"a":0.35,"b":0.45,"p":5,"q":5.5,"z":10.3},{"a":0.35,"b":0.45,"p":5.5,"q":6,"z":8.95},{"a":0.35,"b":0.45,"p":6,"q":6.5,"z":7.85},{"a":0.35,"b":0.45,"p":6.5,"q":7,"z":6.94},{"a":0.35,"b":0.45,"p":7,"q":7.5,"z":6.04},{"a":0.35,"b":0.45,"p":7.5,"q":8,"z":5.33},{"a":0.35,"b":0.45,"p":8,"q":8.5,"z":4.70},{"a":0.35,"b":0.45,"p":8.5,"q":9,"z":4.18},{"a":0.35,"b":0.45,"p":9,"q":9.5,"z":3.74},{"a":0.35,"b":0.45,"p":9.5,"q":10,"z":3.38},{"a":0.35,"b":0.45,"p":10,"q":10.5,"z":3.05},{"a":0.35,"b":0.45,"p":10.5,"q":11,"z":2.78},{"a":0.35,"b":0.45,"p":11,"q":11.5,"z":2.55},{"a":0.35,"b":0.45,"p":11.5,"q":12,"z":2.30},
{"a":0.45,"b":0.55,"p":0.96,"q":2,"z":50},{"a":0.45,"b":0.55,"p":2,"q":2.5,"z":41.0},{"a":0.45,"b":0.55,"p":2.5,"q":3,"z":27.0},{"a":0.45,"b":0.55,"p":3,"q":3.5,"z":18.5},{"a":0.45,"b":0.55,"p":3.5,"q":4,"z":15.6},{"a":0.45,"b":0.55,"p":4,"q":4.5,"z":13.1},{"a":0.45,"b":0.55,"p":4.5,"q":5,"z":11.2},{"a":0.45,"b":0.55,"p":5,"q":5.5,"z":9.72},{"a":0.45,"b":0.55,"p":5.5,"q":6,"z":8.48},{"a":0.45,"b":0.55,"p":6,"q":6.5,"z":7.43},{"a":0.45,"b":0.55,"p":6.5,"q":7,"z":6.57},{"a":0.45,"b":0.55,"p":7,"q":7.5,"z":5.72},{"a":0.45,"b":0.55,"p":7.5,"q":8,"z":5.05},{"a":0.45,"b":0.55,"p":8,"q":8.5,"z":4.46},{"a":0.45,"b":0.55,"p":8.5,"q":9,"z":3.96},{"a":0.45,"b":0.55,"p":9,"q":9.5,"z":3.55},{"a":0.45,"b":0.55,"p":9.5,"q":10,"z":3.20},{"a":0.45,"b":0.55,"p":10,"q":10.5,"z":2.89},{"a":0.45,"b":0.55,"p":10.5,"q":11,"z":2.64},{"a":0.45,"b":0.55,"p":11,"q":11.5,"z":2.41},{"a":0.45,"b":0.55,"p":11.5,"q":12,"z":2.18},
{"a":0.55,"b":0.65,"p":1.02,"q":2,"z":50},{"a":0.55,"b":0.65,"p":2,"q":2.5,"z":43.2},{"a":0.55,"b":0.65,"p":2.5,"q":3,"z":28.5},{"a":0.55,"b":0.65,"p":3,"q":3.5,"z":19.6},{"a":0.55,"b":0.65,"p":3.5,"q":4,"z":16.4},{"a":0.55,"b":0.65,"p":4,"q":4.5,"z":13.9},{"a":0.55,"b":0.65,"p":4.5,"q":5,"z":11.8},{"a":0.55,"b":0.65,"p":5,"q":5.5,"z":10.3},{"a":0.55,"b":0.65,"p":5.5,"q":6,"z":8.95},{"a":0.55,"b":0.65,"p":6,"q":6.5,"z":7.85},{"a":0.55,"b":0.65,"p":6.5,"q":7,"z":6.94},{"a":0.55,"b":0.65,"p":7,"q":7.5,"z":6.04},{"a":0.55,"b":0.65,"p":7.5,"q":8,"z":5.33},{"a":0.55,"b":0.65,"p":8,"q":8.5,"z":4.70},{"a":0.55,"b":0.65,"p":8.5,"q":9,"z":4.18},{"a":0.55,"b":0.65,"p":9,"q":9.5,"z":3.74},{"a":0.55,"b":0.65,"p":9.5,"q":10,"z":3.38},{"a":0.55,"b":0.65,"p":10,"q":10.5,"z":3.05},{"a":0.55,"b":0.65,"p":10.5,"q":11,"z":2.78},{"a":0.55,"b":0.65,"p":11,"q":11.5,"z":2.55},{"a":0.55,"b":0.65,"p":11.5,"q":12,"z":2.30},
{"a":0.65,"b":0.75,"p":0.96,"q":2,"z":50},{"a":0.65,"b":0.75,"p":2,"q":2.5,"z":43.2},{"a":0.65,"b":0.75,"p":2.5,"q":3,"z":28.5},{"a":0.65,"b":0.75,"p":3,"q":3.5,"z":19.6},{"a":0.65,"b":0.75,"p":3.5,"q":4,"z":16.4},{"a":0.65,"b":0.75,"p":4,"q":4.5,"z":13.9},{"a":0.65,"b":0.75,"p":4.5,"q":5,"z":11.8},{"a":0.65,"b":0.75,"p":5,"q":5.5,"z":10.3},{"a":0.65,"b":0.75,"p":5.5,"q":6,"z":8.95},{"a":0.65,"b":0.75,"p":6,"q":6.5,"z":7.85},{"a":0.65,"b":0.75,"p":6.5,"q":7,"z":6.94},{"a":0.65,"b":0.75,"p":7,"q":7.5,"z":6.04},{"a":0.65,"b":0.75,"p":7.5,"q":8,"z":5.33},{"a":0.65,"b":0.75,"p":8,"q":8.5,"z":4.70},{"a":0.65,"b":0.75,"p":8.5,"q":9,"z":4.18},{"a":0.65,"b":0.75,"p":9,"q":9.5,"z":3.74},{"a":0.65,"b":0.75,"p":9.5,"q":10,"z":3.38},{"a":0.65,"b":0.75,"p":10,"q":10.5,"z":3.05},{"a":0.65,"b":0.75,"p":10.5,"q":11,"z":2.78},{"a":0.65,"b":0.75,"p":11,"q":11.5,"z":2.55},{"a":0.65,"b":0.75,"p":11.5,"q":12,"z":2.30},
{"a":0.75,"b":0.85,"p":0.93,"q":2,"z":50},{"a":0.75,"b":0.85,"p":2,"q":2.5,"z":45.5},{"a":0.75,"b":0.85,"p":2.5,"q":3,"z":30.0},{"a":0.75,"b":0.85,"p":3,"q":3.5,"z":20.6},{"a":0.75,"b":0.85,"p":3.5,"q":4,"z":17.3},{"a":0.75,"b":0.85,"p":4,"q":4.5,"z":14.6},{"a":0.75,"b":0.85,"p":4.5,"q":5,"z":12.4},{"a":0.75,"b":0.85,"p":5,"q":5.5,"z":10.8},{"a":0.75,"b":0.85,"p":5.5,"q":6,"z":9.42},{"a":0.75,"b":0.85,"p":6,"q":6.5,"z":8.26},{"a":0.75,"b":0.85,"p":6.5,"q":7,"z":7.30},{"a":0.75,"b":0.85,"p":7,"q":7.5,"z":6.36},{"a":0.75,"b":0.85,"p":7.5,"q":8,"z":5.61},{"a":0.75,"b":0.85,"p":8,"q":8.5,"z":4.95},{"a":0.75,"b":0.85,"p":8.5,"q":9,"z":4.40},{"a":0.75,"b":0.85,"p":9,"q":9.5,"z":3.94},{"a":0.75,"b":0.85,"p":9.5,"q":10,"z":3.56},{"a":0.75,"b":0.85,"p":10,"q":10.5,"z":3.21},{"a":0.75,"b":0.85,"p":10.5,"q":11,"z":2.93},{"a":0.75,"b":0.85,"p":11,"q":11.5,"z":2.68},{"a":0.75,"b":0.85,"p":11.5,"q":12,"z":2.42},
{"a":0.85,"b":0.95,"p":0.91,"q":2,"z":50},{"a":0.85,"b":0.95,"p":2,"q":2.5,"z":45.5},{"a":0.85,"b":0.95,"p":2.5,"q":3,"z":30.0},{"a":0.85,"b":0.95,"p":3,"q":3.5,"z":20.6},{"a":0.85,"b":0.95,"p":3.5,"q":4,"z":17.3},{"a":0.85,"b":0.95,"p":4,"q":4.5,"z":14.6},{"a":0.85,"b":0.95,"p":4.5,"q":5,"z":12.4},{"a":0.85,"b":0.95,"p":5,"q":5.5,"z":10.8},{"a":0.85,"b":0.95,"p":5.5,"q":6,"z":9.42},{"a":0.85,"b":0.95,"p":6,"q":6.5,"z":8.26},{"a":0.85,"b":0.95,"p":6.5,"q":7,"z":7.30},{"a":0.85,"b":0.95,"p":7,"q":7.5,"z":6.36},{"a":0.85,"b":0.95,"p":7.5,"q":8,"z":5.61},{"a":0.85,"b":0.95,"p":8,"q":8.5,"z":4.95},{"a":0.85,"b":0.95,"p":8.5,"q":9,"z":4.40},{"a":0.85,"b":0.95,"p":9,"q":9.5,"z":3.94},{"a":0.85,"b":0.95,"p":9.5,"q":10,"z":3.56},{"a":0.85,"b":0.95,"p":10,"q":10.5,"z":3.21},{"a":0.85,"b":0.95,"p":10.5,"q":11,"z":2.93},{"a":0.85,"b":0.95,"p":11,"q":11.5,"z":2.68},{"a":0.85,"b":0.95,"p":11.5,"q":12,"z":2.42},
{"a":0.95,"b":1.05,"p":0.9,"q":2,"z":50},{"a":0.95,"b":1.05,"p":2,"q":2.5,"z":45.5},{"a":0.95,"b":1.05,"p":2.5,"q":3,"z":30.0},{"a":0.95,"b":1.05,"p":3,"q":3.5,"z":20.6},{"a":0.95,"b":1.05,"p":3.5,"q":4,"z":17.3},{"a":0.95,"b":1.05,"p":4,"q":4.5,"z":14.6},{"a":0.95,"b":1.05,"p":4.5,"q":5,"z":12.4},{"a":0.95,"b":1.05,"p":5,"q":5.5,"z":10.8},{"a":0.95,"b":1.05,"p":5.5,"q":6,"z":9.42},{"a":0.95,"b":1.05,"p":6,"q":6.5,"z":8.26},{"a":0.95,"b":1.05,"p":6.5,"q":7,"z":7.30},{"a":0.95,"b":1.05,"p":7,"q":7.5,"z":6.36},{"a":0.95,"b":1.05,"p":7.5,"q":8,"z":5.61},{"a":0.95,"b":1.05,"p":8,"q":8.5,"z":4.95},{"a":0.95,"b":1.05,"p":8.5,"q":9,"z":4.40},{"a":0.95,"b":1.05,"p":9,"q":9.5,"z":3.94},{"a":0.95,"b":1.05,"p":9.5,"q":10,"z":3.56},{"a":0.95,"b":1.05,"p":10,"q":10.5,"z":3.21},{"a":0.95,"b":1.05,"p":10.5,"q":11,"z":2.93},{"a":0.95,"b":1.05,"p":11,"q":11.5,"z":2.68},{"a":0.95,"b":1.05,"p":11.5,"q":12,"z":2.42},
{"a":1.05,"b":1.15,"p":0.9,"q":2,"z":50},{"a":1.05,"b":1.15,"p":2,"q":2.5,"z":47.8},{"a":1.05,"b":1.15,"p":2.5,"q":3,"z":31.5},{"a":1.05,"b":1.15,"p":3,"q":3.5,"z":21.6},{"a":1.05,"b":1.15,"p":3.5,"q":4,"z":18.2},{"a":1.05,"b":1.15,"p":4,"q":4.5,"z":15.3},{"a":1.05,"b":1.15,"p":4.5,"q":5,"z":13.0},{"a":1.05,"b":1.15,"p":5,"q":5.5,"z":11.3},{"a":1.05,"b":1.15,"p":5.5,"q":6,"z":9.89},{"a":1.05,"b":1.15,"p":6,"q":6.5,"z":8.67},{"a":1.05,"b":1.15,"p":6.5,"q":7,"z":7.67},{"a":1.05,"b":1.15,"p":7,"q":7.5,"z":6.68},{"a":1.05,"b":1.15,"p":7.5,"q":8,"z":5.89},{"a":1.05,"b":1.15,"p":8,"q":8.5,"z":5.20},{"a":1.05,"b":1.15,"p":8.5,"q":9,"z":4.62},{"a":1.05,"b":1.15,"p":9,"q":9.5,"z":4.14},{"a":1.05,"b":1.15,"p":9.5,"q":10,"z":3.74},{"a":1.05,"b":1.15,"p":10,"q":10.5,"z":3.37},{"a":1.05,"b":1.15,"p":10.5,"q":11,"z":3.08},{"a":1.05,"b":1.15,"p":11,"q":11.5,"z":2.81},{"a":1.05,"b":1.15,"p":11.5,"q":12,"z":2.54},
{"a":1.15,"b":1.25,"p":0.9,"q":2,"z":50},{"a":1.15,"b":1.25,"p":2,"q":2.5,"z":50.0},{"a":1.15,"b":1.25,"p":2.5,"q":3,"z":33.0},{"a":1.15,"b":1.25,"p":3,"q":3.5,"z":22.7},{"a":1.15,"b":1.25,"p":3.5,"q":4,"z":19.0},{"a":1.15,"b":1.25,"p":4,"q":4.5,"z":16.1},{"a":1.15,"b":1.25,"p":4.5,"q":5,"z":13.6},{"a":1.15,"b":1.25,"p":5,"q":5.5,"z":11.9},{"a":1.15,"b":1.25,"p":5.5,"q":6,"z":10.4},{"a":1.15,"b":1.25,"p":6,"q":6.5,"z":9.09},{"a":1.15,"b":1.25,"p":6.5,"q":7,"z":8.03},{"a":1.15,"b":1.25,"p":7,"q":7.5,"z":7.00},{"a":1.15,"b":1.25,"p":7.5,"q":8,"z":6.17},{"a":1.15,"b":1.25,"p":8,"q":8.5,"z":5.45},{"a":1.15,"b":1.25,"p":8.5,"q":9,"z":4.84},{"a":1.15,"b":1.25,"p":9,"q":9.5,"z":4.33},{"a":1.15,"b":1.25,"p":9.5,"q":10,"z":3.92},{"a":1.15,"b":1.25,"p":10,"q":10.5,"z":3.53},{"a":1.15,"b":1.25,"p":10.5,"q":11,"z":3.22},{"a":1.15,"b":1.25,"p":11,"q":11.5,"z":2.95},{"a":1.15,"b":1.25,"p":11.5,"q":12,"z":2.66},
{"a":1.25,"b":1.35,"p":0.9,"q":2,"z":50},{"a":1.25,"b":1.35,"p":2,"q":2.5,"z":50.0},{"a":1.25,"b":1.35,"p":2.5,"q":3,"z":33.0},{"a":1.25,"b":1.35,"p":3,"q":3.5,"z":22.7},{"a":1.25,"b":1.35,"p":3.5,"q":4,"z":19.0},{"a":1.25,"b":1.35,"p":4,"q":4.5,"z":16.1},{"a":1.25,"b":1.35,"p":4.5,"q":5,"z":13.6},{"a":1.25,"b":1.35,"p":5,"q":5.5,"z":11.9},{"a":1.25,"b":1.35,"p":5.5,"q":6,"z":10.4},{"a":1.25,"b":1.35,"p":6,"q":6.5,"z":9.09},{"a":1.25,"b":1.35,"p":6.5,"q":7,"z":8.03},{"a":1.25,"b":1.35,"p":7,"q":7.5,"z":7.00},{"a":1.25,"b":1.35,"p":7.5,"q":8,"z":6.17},{"a":1.25,"b":1.35,"p":8,"q":8.5,"z":5.45},{"a":1.25,"b":1.35,"p":8.5,"q":9,"z":4.84},{"a":1.25,"b":1.35,"p":9,"q":9.5,"z":4.33},{"a":1.25,"b":1.35,"p":9.5,"q":10,"z":3.92},{"a":1.25,"b":1.35,"p":10,"q":10.5,"z":3.53},{"a":1.25,"b":1.35,"p":10.5,"q":11,"z":3.22},{"a":1.25,"b":1.35,"p":11,"q":11.5,"z":2.95},{"a":1.25,"b":1.35,"p":11.5,"q":12,"z":2.66},
{"a":1.35,"b":1.45,"p":0.9,"q":2,"z":50},{"a":1.35,"b":1.45,"p":2,"q":2.5,"z":50.0},{"a":1.35,"b":1.45,"p":2.5,"q":3,"z":33.0},{"a":1.35,"b":1.45,"p":3,"q":3.5,"z":22.7},{"a":1.35,"b":1.45,"p":3.5,"q":4,"z":19.0},{"a":1.35,"b":1.45,"p":4,"q":4.5,"z":16.1},{"a":1.35,"b":1.45,"p":4.5,"q":5,"z":13.6},{"a":1.35,"b":1.45,"p":5,"q":5.5,"z":11.9},{"a":1.35,"b":1.45,"p":5.5,"q":6,"z":10.4},{"a":1.35,"b":1.45,"p":6,"q":6.5,"z":9.09},{"a":1.35,"b":1.45,"p":6.5,"q":7,"z":8.03},{"a":1.35,"b":1.45,"p":7,"q":7.5,"z":7.00},{"a":1.35,"b":1.45,"p":7.5,"q":8,"z":6.17},{"a":1.35,"b":1.45,"p":8,"q":8.5,"z":5.45},{"a":1.35,"b":1.45,"p":8.5,"q":9,"z":4.84},{"a":1.35,"b":1.45,"p":9,"q":9.5,"z":4.33},{"a":1.35,"b":1.45,"p":9.5,"q":10,"z":3.92},{"a":1.35,"b":1.45,"p":10,"q":10.5,"z":3.53},{"a":1.35,"b":1.45,"p":10.5,"q":11,"z":3.22},{"a":1.35,"b":1.45,"p":11,"q":11.5,"z":2.95},{"a":1.35,"b":1.45,"p":11.5,"q":12,"z":2.66},
{"a":1.45,"b":1.55,"p":0.9,"q":2,"z":50},{"a":1.45,"b":1.55,"p":2,"q":2.5,"z":50.4},{"a":1.45,"b":1.55,"p":2.5,"q":3,"z":34.5},{"a":1.45,"b":1.55,"p":3,"q":3.5,"z":23.7},{"a":1.45,"b":1.55,"p":3.5,"q":4,"z":19.9},{"a":1.45,"b":1.55,"p":4,"q":4.5,"z":16.8},{"a":1.45,"b":1.55,"p":4.5,"q":5,"z":14.3},{"a":1.45,"b":1.55,"p":5,"q":5.5,"z":12.4},{"a":1.45,"b":1.55,"p":5.5,"q":6,"z":10.8},{"a":1.45,"b":1.55,"p":6,"q":6.5,"z":9.50},{"a":1.45,"b":1.55,"p":6.5,"q":7,"z":8.40},{"a":1.45,"b":1.55,"p":7,"q":7.5,"z":7.31},{"a":1.45,"b":1.55,"p":7.5,"q":8,"z":6.45},{"a":1.45,"b":1.55,"p":8,"q":8.5,"z":5.69},{"a":1.45,"b":1.55,"p":8.5,"q":9,"z":5.06},{"a":1.45,"b":1.55,"p":9,"q":9.5,"z":4.53},{"a":1.45,"b":1.55,"p":9.5,"q":10,"z":4.09},{"a":1.45,"b":1.55,"p":10,"q":10.5,"z":3.69},{"a":1.45,"b":1.55,"p":10.5,"q":11,"z":3.37},{"a":1.45,"b":1.55,"p":11,"q":11.5,"z":3.08},{"a":1.45,"b":1.55,"p":11.5,"q":12,"z":2.78}
],
"contour":[
{"i":0,"e":-1.7,"p":0.93},{"i":1,"e":-1.7,"p":10.27},{"i":2,"e":-1.6,"p":10.30},{"i":3,"e":-1.5,"p":10.11},{"i":4,"e":-1.4,"p":10.20},{"i":5,"e":-1.3,"p":10.25},{"i":6,"e":-1.2,"p":10.22},{"i":7,"e":-1.1,"p":10.17},{"i":8,"e":-1.0,"p":10.47},{"i":9,"e":-0.9,"p":10.43},{"i":10,"e":-0.8,"p":10.37},{"i":11,"e":-0.7,"p":10.10},{"i":12,"e":-0.6,"p":10.17},{"i":13,"e":-0.5,"p":10.10},{"i":14,"e":-0.4,"p":9.93},{"i":15,"e":-0.3,"p":9.82},{"i":16,"e":-0.2,"p":10.04},{"i":17,"e":-0.1,"p":10.30},{"i":18,"e":0.0,"p":10.46},{"i":19,"e":0.1,"p":10.02},{"i":20,"e":0.2,"p":9.83},{"i":21,"e":0.3,"p":9.62},{"i":22,"e":0.4,"p":9.90},{"i":23,"e":0.5,"p":9.76},{"i":24,"e":0.6,"p":10.07},{"i":25,"e":0.7,"p":10.05},{"i":26,"e":0.8,"p":10.25},{"i":27,"e":0.9,"p":10.35},{"i":28,"e":1.0,"p":10.32},{"i":29,"e":1.1,"p":10.48},{"i":30,"e":1.2,"p":10.72},{"i":31,"e":1.3,"p":10.62},{"i":32,"e":1.4,"p":10.66},{"i":33,"e":1.5,"p":10.87},{"i":34,"e":1.5,"p":0.93},{"i":35,"e":1.0,"p":0.93},{"i":36,"e":0.8,"p":0.95},{"i":37,"e":0.7,"p":0.99},{"i":38,"e":0.6,"p":1.01},{"i":39,"e":0.5,"p":0.97},{"i":40,"e":0.4,"p":1.04},{"i":41,"e":0.2,"p":1.07},{"i":42,"e":0.0,"p":1.56},{"i":43,"e":-0.2,"p":1.07},{"i":44,"e":-0.5,"p":1.03},{"i":45,"e":-0.7,"p":0.99},{"i":46,"e":-0.9,"p":0.95},{"i":47,"e":-1.0,"p":0.93},{"i":48,"e":-1.7,"p":0.93}
]},
"layer":[
{"data":{"name":"cells"},
"mark":{"type":"rect","strokeWidth":0.6,"stroke":{"expr":"scale('color', datum.z)"}},
"encoding":{
"x":{"field":"a","type":"quantitative","scale":{"domain":[-2.055,2.055],"nice":false,"zero":false},
"axis":{"orient":"bottom","values":[-2,-1.5,-1,-0.5,0,0.5,1,1.5,2],"format":"~g","tickSize":-13,"tickColor":"black","tickWidth":1,"domain":false,"grid":false,"labelFont":"Liberation Sans","labelFontSize":18,"labelColor":"black","labelPadding":19,"labelFlush":false,"labelOverlap":false,"title":"η","titleFont":"Liberation Sans","titleFontSize":24,"titleFontWeight":"normal","titleColor":"black","titleX":891,"titleY":38,"titleAlign":"right","titleBaseline":"alphabetic"}},
"x2":{"field":"b"},
"y":{"field":"p","type":"quantitative","scale":{"domain":[0,12],"nice":false,"zero":false},
"axis":{"orient":"left","values":[0,2,4,6,8,10,12],"format":"~g","tickSize":-27,"tickColor":"black","tickWidth":1,"domain":false,"grid":false,"labelFont":"Liberation Sans","labelFontSize":19,"labelColor":"black","labelPadding":31,"labelOverlap":false,"labelFlush":false,"title":"momentum [GeV/c]","titleFont":"Liberation Sans","titleFontSize":23,"titleFontWeight":"normal","titleColor":"black","titleAngle":270,"titleX":-79,"titleY":-2,"titleAlign":"right","titleBaseline":"middle"}},
"y2":{"field":"q"},
"color":{"field":"z","type":"quantitative","scale":{"type":"log","domain":[0.0505,0.529,3.414,16.73,50.5],"range":["#000082","#00cfff","#deff1f","#ff3300","#820000"],"interpolate":"rgb","clamp":true},
"legend":{"type":"gradient","orient":"none","legendX":925,"legendY":-1,"direction":"vertical","gradientLength":448,"gradientThickness":53,"gradientStrokeWidth":0,"title":null,"padding":0,"values":[0.1,1,10],"labelExpr":"datum.value < 0.5 ? '10⁻¹' : (datum.value < 5 ? '1' : '10')","labelFont":"Liberation Sans","labelFontSize":17,"labelColor":"black","labelOffset":12,"labelOverlap":false}}
}},
{"data":{"name":"contour"},
"mark":{"type":"line","color":"black","strokeWidth":2,"strokeJoin":"miter"},
"encoding":{
"x":{"field":"e","type":"quantitative","scale":{"domain":[-2.055,2.055],"nice":false,"zero":false},
"axis":{"orient":"bottom","values":[-1.9,-1.8,-1.7,-1.6,-1.4,-1.3,-1.2,-1.1,-0.9,-0.8,-0.7,-0.6,-0.4,-0.3,-0.2,-0.1,0.1,0.2,0.3,0.4,0.6,0.7,0.8,0.9,1.1,1.2,1.3,1.4,1.6,1.7,1.8,1.9],"tickSize":-7,"tickColor":"black","tickWidth":1,"domain":false,"grid":false,"labels":false,"title":null}},
"y":{"field":"p","type":"quantitative","scale":{"domain":[0,12],"nice":false,"zero":false},
"axis":{"orient":"left","values":[0.5,1,1.5,2.5,3,3.5,4.5,5,5.5,6.5,7,7.5,8.5,9,9.5,10.5,11,11.5],"tickSize":-14,"tickColor":"black","tickWidth":1,"domain":false,"grid":false,"labels":false,"title":null}},
"order":{"field":"i","type":"quantitative"}
}}
],
"resolve":{"axis":{"x":"independent","y":"independent"}}
}
